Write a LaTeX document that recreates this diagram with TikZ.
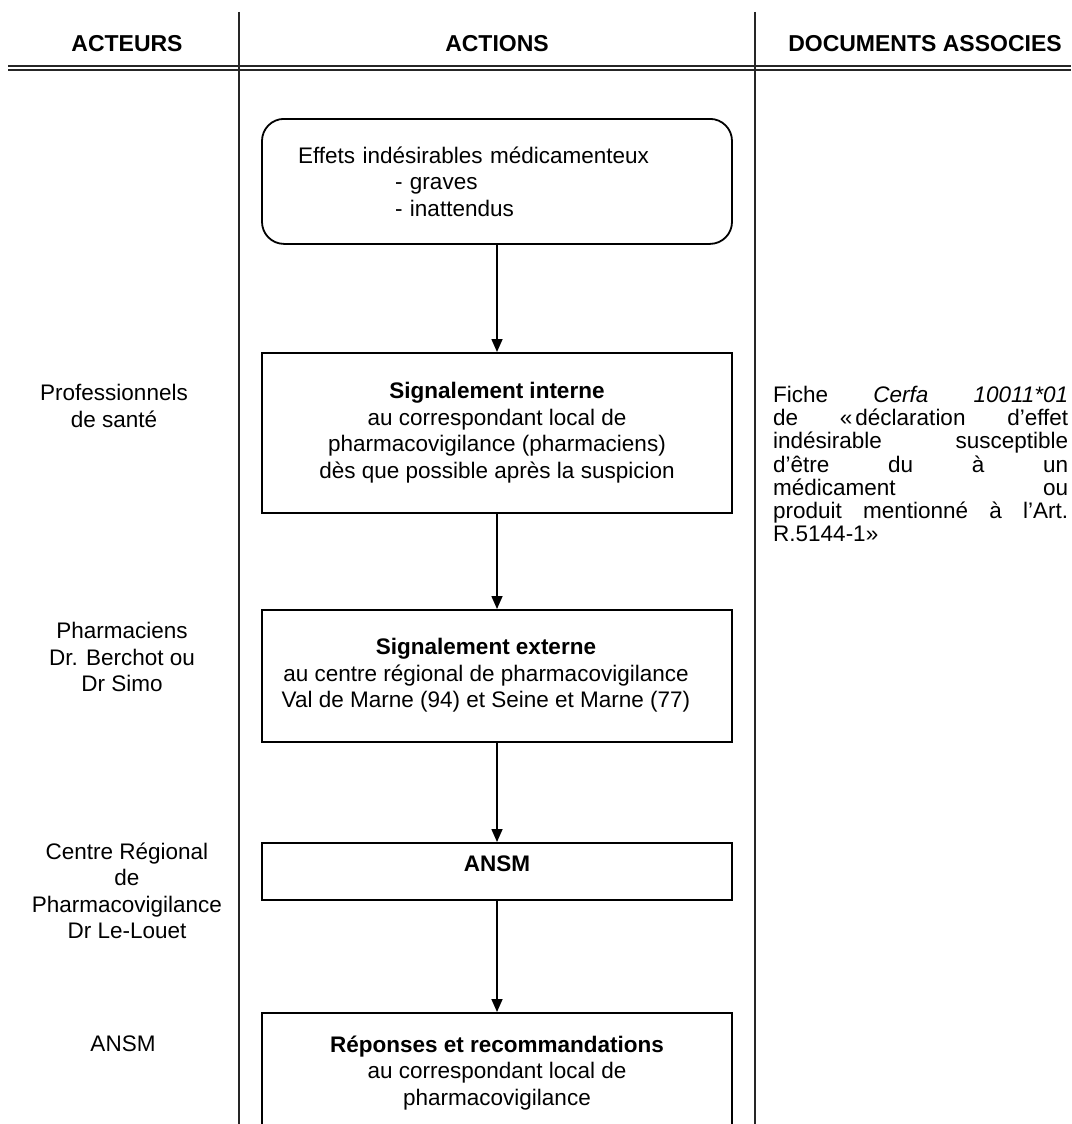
\documentclass[tikz,border=0pt]{standalone}
\usepackage{fontspec}
\setmainfont{Liberation Sans}
\usetikzlibrary{arrows.meta}

\begin{document}
\begin{tikzpicture}[x=1pt,y=-1pt,
  rule/.style={line width=1.6pt, draw=black!85},
  header/.style={font=\fontsize{23}{27}\selectfont\bfseries, inner sep=0pt},
  bodytext/.style={font=\fontsize{22.5}{26.5}\selectfont},
  flowbox/.style={draw, line width=1.8pt, minimum width=470pt, inner sep=0pt,
    align=center, anchor=north, bodytext},
  actor/.style={align=center, inner sep=0pt, bodytext},
  flow/.style={line width=1.6pt, -{Triangle[width=11pt,length=13pt]}},
]
\useasboundingbox (0,0) rectangle (1071,1124);
\clip (0,0) rectangle (1071,1124);
\fill[white] (0,0) rectangle (1071,1124);

% column rules and header underline
\draw[rule] (239,12) -- (239,1124);
\draw[rule] (755,12) -- (755,1124);
\draw[rule] (8,66) -- (1071,66);
\draw[rule] (8,70) -- (1071,70);

% column headings
\node[header] (hacteurs) at (127,44) {ACTEURS};
\node[header] (hactions) at (497,44) {ACTIONS};
\node[header] (hdocs) at (925,44) {DOCUMENTS ASSOCIES};

% process steps
\node[flowbox, rounded corners=22pt, minimum height=125pt,
      text width=398pt, inner xsep=36pt, align=left] (effets) at (497,118)
  {Effets indésirables médicamenteux\\
   \hspace*{97pt}- graves\\
   \hspace*{97pt}- inattendus};

\node[flowbox, minimum height=160pt] (interne) at (497,352)
  {\textbf{Signalement interne}\\
   au correspondant local de\\
   pharmacovigilance (pharmaciens)\\
   dès que possible après la suspicion};

\node[flowbox, minimum height=132pt] (externe) at (497,609)
  {\hspace*{-22pt}\begin{tabular}{@{}c@{}}
   \textbf{Signalement externe}\\
   au centre régional de pharmacovigilance\\
   Val de Marne (94) et Seine et Marne (77)
   \end{tabular}};

\node[flowbox, minimum height=57pt, text depth=15pt] (ansm) at (497,842)
  {\textbf{ANSM}};

\node[flowbox, minimum height=120pt] (reponses) at (497,1012)
  {\textbf{Réponses et recommandations}\\
   au correspondant local de\\
   pharmacovigilance};

\draw[flow] (effets.south) -- (interne.north);
\draw[flow] (interne.south) -- (externe.north);
\draw[flow] (externe.south) -- (ansm.north);
\draw[flow] (ansm.south) -- (reponses.north);

% actors
\node[actor] (aprof) at (114,406) {Professionnels\\de santé};
\node[actor] (apharm) at (122,657) {Pharmaciens\\Dr. Berchot ou\\Dr Simo};
\node[actor] (acrpv) at (127,891) {Centre Régional\\de\\Pharmacovigilance\\Dr Le-Louet};
\node[actor] (aansm) at (123,1044) {ANSM};

% associated document
\node[anchor=north west, inner sep=0pt, text width=295pt, align=justify,
      font=\fontsize{22.5}{23.2}\selectfont] (cerfa) at (773,386)
  {Fiche \textit{Cerfa 10011*01}\linebreak
   de «\kern3pt déclaration d’effet\linebreak
   indésirable susceptible\linebreak
   d’être du à un\linebreak
   médicament ou\linebreak
   produit mentionné à l’Art.\linebreak
   R.5144-1»};
\end{tikzpicture}
\end{document}
